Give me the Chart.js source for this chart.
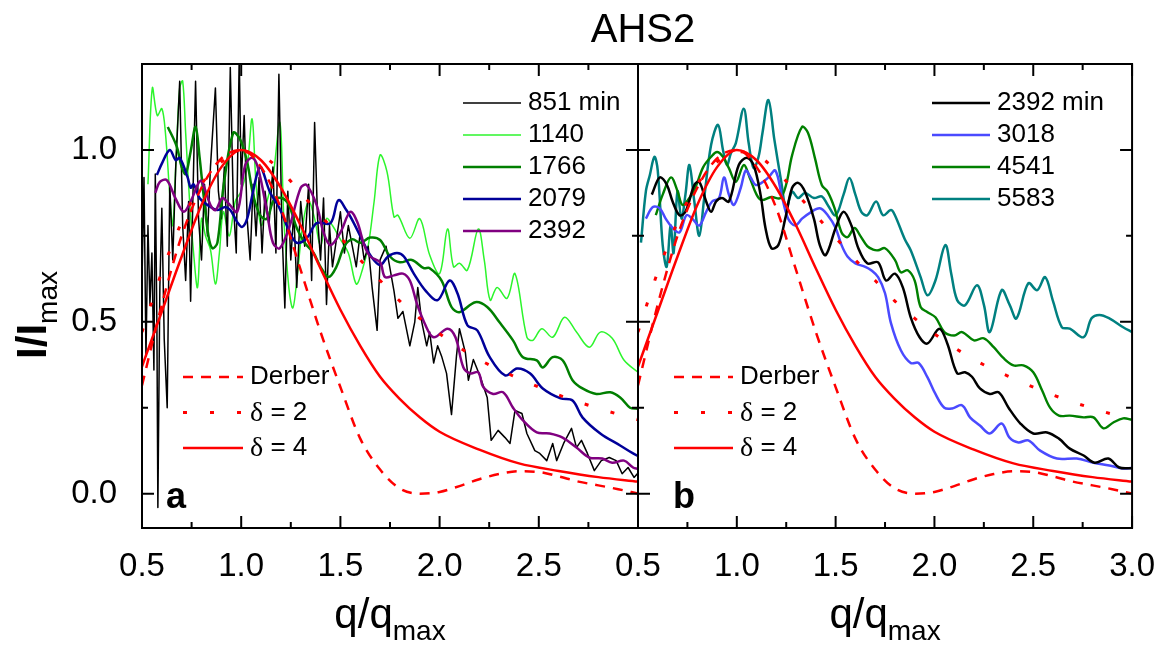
<!DOCTYPE html>
<html>
<head>
<meta charset="utf-8">
<title>AHS2</title>
<script src="https://cdn.jsdelivr.net/npm/chart.js@4.4.1/dist/chart.umd.min.js"></script>
<style>
  html, body { margin: 0; padding: 0; background: #fff; }
  #wrap { position: relative; width: 1166px; height: 646px; }
  #wrap canvas { position: absolute; left: 0; top: 0; }
</style>
</head>
<body>
<div id="wrap">
  <canvas id="chart-a" width="1166" height="646"></canvas>
  <canvas id="chart-b" width="1166" height="646"></canvas>
</div>
<script>
// ---- tick values ----
var xTicksA = [0.5, 1.0, 1.5, 2.0, 2.5];
var xTicksB = [0.5, 1.0, 1.5, 2.0, 2.5, 3.0];
var xMajor = [0.5, 1.0, 1.5, 2.0, 2.5, 3.0];
var xMinor = [0.75, 1.25, 1.75, 2.25, 2.75];
var yMajor = [0.0, 0.5, 1.0];
var yMinor = [0.25, 0.75];

// ---- model curves (same in both panels) ----
var qDelta4 = [0.5, 0.6, 0.7, 0.8, 0.9, 1.0, 1.1, 1.2, 1.3, 1.4, 1.5, 1.6, 1.7, 1.8, 1.9, 2.0, 2.2, 2.4, 2.6, 2.8, 3.0];
var iDelta4 = [0.37, 0.53, 0.69, 0.84, 0.95, 1.0, 0.97, 0.89, 0.78, 0.655, 0.535, 0.43, 0.34, 0.275, 0.222, 0.18, 0.128, 0.088, 0.066, 0.048, 0.035];
var qDelta2 = [0.5, 0.6, 0.7, 0.8, 0.9, 1.0, 1.1, 1.2, 1.3, 1.4, 1.5, 1.6, 1.7, 1.8, 1.9, 2.0, 2.2, 2.4, 2.6, 2.8, 3.0];
var iDelta2 = [0.47, 0.645, 0.79, 0.9, 0.965, 0.995, 0.985, 0.94, 0.875, 0.81, 0.745, 0.68, 0.62, 0.56, 0.51, 0.465, 0.39, 0.335, 0.287, 0.248, 0.215];
var qDerber = [0.5, 0.6, 0.7, 0.8, 0.9, 1.0, 1.1, 1.2, 1.3, 1.4, 1.5, 1.6, 1.7, 1.8, 1.9, 2.0, 2.1, 2.2, 2.3, 2.4, 2.5, 2.6, 2.7, 2.8, 2.9, 3.0];
var iDerber = [0.315, 0.55, 0.75, 0.89, 0.975, 1.0, 0.95, 0.83, 0.65, 0.47, 0.31, 0.16, 0.07, 0.015, 0.0, 0.005, 0.022, 0.042, 0.057, 0.065, 0.063, 0.05, 0.035, 0.024, 0.013, 0.0];

// ---- panel a ----
var q851 = [0.500, 0.510, 0.520, 0.530, 0.540, 0.550, 0.560, 0.567, 0.575, 0.580, 0.590, 0.600, 0.612, 0.627, 0.640, 0.655, 0.670, 0.690, 0.705, 0.720,
  0.735, 0.745, 0.760, 0.770, 0.785, 0.800, 0.815, 0.830, 0.845, 0.870, 0.885, 0.900, 0.915, 0.930, 0.945, 0.960, 0.975, 0.990, 1.000, 1.015,
  1.030, 1.045, 1.060, 1.075, 1.090, 1.105, 1.120, 1.140, 1.160, 1.175, 1.190, 1.205, 1.220, 1.235, 1.250, 1.265, 1.280, 1.300, 1.320, 1.340,
  1.355, 1.370, 1.385, 1.400, 1.415, 1.430, 1.445, 1.460, 1.480, 1.500, 1.520, 1.540, 1.560, 1.580, 1.600, 1.620, 1.640, 1.660, 1.685, 1.700,
  1.730, 1.770, 1.790, 1.815, 1.850, 1.875, 1.890, 1.910, 1.935, 1.950, 1.970, 1.990, 2.010, 2.035, 2.060, 2.085, 2.100, 2.130, 2.145, 2.170,
  2.205, 2.240, 2.260, 2.295, 2.330, 2.355, 2.380, 2.415, 2.440, 2.480, 2.505, 2.540, 2.570, 2.590, 2.625, 2.665, 2.690, 2.715, 2.745, 2.780,
  2.815, 2.855, 2.890, 2.920, 2.950, 2.980, 3.000];
var i851 = [0.62, 0.92, 0.40, 0.78, 0.55, 0.70, 0.36, 0.93, 0.50, -0.04, 0.60, 0.83, 0.45, 0.25, 0.90, 0.68, 0.95, 1.20, 0.78, 0.62,
  0.85, 0.56, 0.95, 1.20, 0.80, 0.68, 0.90, 0.75, 0.95, 1.18, 0.88, 0.80, 0.95, 0.72, 1.24, 0.85, 0.70, 1.27, 0.90, 1.10,
  0.80, 0.68, 0.90, 0.75, 0.92, 0.70, 0.88, 0.78, 0.95, 0.70, 1.22, 0.78, 0.54, 0.88, 0.68, 0.82, 0.60, 0.85, 0.72, 0.90,
  0.62, 1.08, 0.80, 0.68, 0.86, 0.55, 0.78, 0.66, 0.74, 0.82, 0.70, 0.78, 0.72, 0.66, 0.76, 0.68, 0.72, 0.60, 0.475, 0.68,
  0.72, 0.59, 0.51, 0.53, 0.43, 0.50, 0.60, 0.50, 0.43, 0.47, 0.38, 0.43, 0.40, 0.35, 0.23, 0.40, 0.48, 0.41, 0.33, 0.39,
  0.34, 0.28, 0.155, 0.184, 0.163, 0.146, 0.242, 0.233, 0.175, 0.125, 0.117, 0.096, 0.146, 0.096, 0.146, 0.19, 0.134, 0.155, 0.117, 0.067,
  0.096, 0.105, 0.096, 0.058, 0.076, 0.047, 0.06];

var q1140 = [0.530, 0.552, 0.577, 0.600, 0.618, 0.640, 0.655, 0.670, 0.690, 0.705, 0.720, 0.740, 0.760, 0.780, 0.800, 0.820, 0.845, 0.870, 0.890, 0.910,
  0.940, 0.970, 1.000, 1.030, 1.055, 1.075, 1.100, 1.130, 1.160, 1.195, 1.215, 1.240, 1.260, 1.280, 1.310, 1.340, 1.370, 1.400, 1.430, 1.460,
  1.500, 1.540, 1.580, 1.610, 1.640, 1.670, 1.700, 1.735, 1.770, 1.790, 1.850, 1.900, 1.950, 2.000, 2.040, 2.070, 2.100, 2.140, 2.195, 2.225,
  2.255, 2.290, 2.340, 2.380, 2.440, 2.470, 2.515, 2.570, 2.630, 2.690, 2.755, 2.810, 2.870, 2.930, 3.000];
var i1140 = [0.90, 1.18, 1.10, 1.12, 1.05, 0.87, 0.78, 0.95, 1.18, 1.20, 1.05, 0.85, 0.70, 0.60, 0.80, 0.75, 0.71, 0.61, 0.70, 0.82,
  0.75, 0.85, 0.88, 0.95, 1.09, 0.90, 0.78, 0.85, 0.92, 1.08, 0.80, 0.60, 0.54, 0.62, 0.78, 0.85, 0.80, 0.72, 0.80, 0.78,
  0.74, 0.70, 0.61, 0.65, 0.72, 0.85, 0.985, 0.936, 0.805, 0.81, 0.743, 0.80, 0.694, 0.64, 0.77, 0.66, 0.67, 0.65, 0.77, 0.68,
  0.563, 0.60, 0.568, 0.64, 0.455, 0.446, 0.48, 0.455, 0.513, 0.47, 0.426, 0.47, 0.452, 0.388, 0.353];

var q1766 = [0.630, 0.675, 0.700, 0.720, 0.745, 0.770, 0.790, 0.810, 0.835, 0.855, 0.880, 0.910, 0.960, 0.995, 1.030, 1.060, 1.095, 1.130, 1.165, 1.205,
  1.240, 1.280, 1.320, 1.365, 1.400, 1.440, 1.480, 1.520, 1.560, 1.600, 1.650, 1.700, 1.750, 1.800, 1.860, 1.920, 1.950, 2.010, 2.060, 2.100,
  2.180, 2.240, 2.300, 2.370, 2.420, 2.490, 2.520, 2.570, 2.620, 2.670, 2.720, 2.790, 2.860, 2.910, 2.960, 3.000];
var i1766 = [1.067, 1.01, 0.95, 0.93, 0.995, 1.067, 0.98, 0.87, 0.75, 0.714, 0.73, 0.89, 1.05, 1.03, 0.965, 0.87, 0.81, 0.80, 0.855, 0.86,
  0.84, 0.773, 0.73, 0.70, 0.66, 0.63, 0.66, 0.72, 0.74, 0.73, 0.745, 0.738, 0.69, 0.673, 0.68, 0.656, 0.656, 0.62, 0.543, 0.528,
  0.557, 0.543, 0.50, 0.446, 0.397, 0.388, 0.367, 0.397, 0.388, 0.33, 0.306, 0.29, 0.295, 0.28, 0.25, 0.247];

var q2079 = [0.575, 0.600, 0.640, 0.670, 0.690, 0.730, 0.745, 0.760, 0.790, 0.830, 0.880, 0.920, 0.945, 0.980, 1.005, 1.030, 1.060, 1.085, 1.100, 1.145,
  1.190, 1.245, 1.280, 1.330, 1.380, 1.450, 1.490, 1.530, 1.565, 1.615, 1.650, 1.700, 1.740, 1.785, 1.820, 1.870, 1.930, 1.990, 2.050, 2.090,
  2.140, 2.190, 2.250, 2.330, 2.390, 2.455, 2.520, 2.610, 2.670, 2.720, 2.810, 2.910, 2.975, 3.000];
var i2079 = [0.927, 0.96, 1.0, 0.97, 0.977, 0.92, 0.89, 0.90, 0.86, 0.84, 0.825, 0.834, 0.825, 0.79, 0.776, 0.80, 0.88, 0.94, 0.95, 0.877,
  0.834, 0.76, 0.73, 0.743, 0.787, 0.787, 0.854, 0.825, 0.79, 0.732, 0.694, 0.665, 0.69, 0.70, 0.69, 0.64, 0.59, 0.563, 0.62, 0.583,
  0.49, 0.475, 0.40, 0.344, 0.364, 0.35, 0.306, 0.277, 0.271, 0.222, 0.175, 0.14, 0.117, 0.11];

var q2392a = [0.567, 0.590, 0.625, 0.668, 0.710, 0.745, 0.785, 0.800, 0.845, 0.870, 0.905, 0.935, 0.980, 1.020, 1.055, 1.085, 1.130, 1.160, 1.195, 1.245,
  1.300, 1.330, 1.380, 1.415, 1.450, 1.500, 1.550, 1.585, 1.620, 1.650, 1.700, 1.725, 1.770, 1.815, 1.850, 1.885, 1.925, 1.970, 2.040, 2.080,
  2.120, 2.155, 2.195, 2.220, 2.270, 2.320, 2.370, 2.420, 2.490, 2.555, 2.620, 2.690, 2.755, 2.820, 2.870, 2.930, 2.975, 3.000];
var i2392a = [0.875, 0.907, 0.912, 0.86, 0.82, 0.85, 0.904, 0.91, 0.84, 0.825, 0.86, 0.845, 0.82, 0.956, 0.977, 0.947, 0.82, 0.73, 0.714, 0.78,
  0.89, 0.898, 0.84, 0.76, 0.723, 0.76, 0.82, 0.79, 0.723, 0.69, 0.673, 0.63, 0.635, 0.64, 0.62, 0.554, 0.495, 0.455, 0.48, 0.455,
  0.367, 0.35, 0.353, 0.31, 0.29, 0.295, 0.25, 0.213, 0.178, 0.175, 0.163, 0.134, 0.105, 0.102, 0.09, 0.096, 0.076, 0.072];

// ---- panel b ----
var q2392b = [0.570, 0.610, 0.645, 0.675, 0.710, 0.740, 0.785, 0.810, 0.845, 0.870, 0.895, 0.925, 0.960, 1.010, 1.050, 1.085, 1.120, 1.145, 1.175, 1.210,
  1.245, 1.280, 1.310, 1.345, 1.390, 1.420, 1.450, 1.500, 1.540, 1.580, 1.615, 1.660, 1.715, 1.755, 1.800, 1.840, 1.880, 1.925, 1.965, 2.025,
  2.065, 2.115, 2.155, 2.190, 2.230, 2.280, 2.325, 2.375, 2.435, 2.500, 2.570, 2.630, 2.685, 2.755, 2.810, 2.880, 2.935, 3.000];
var i2392b = [0.87, 0.92, 0.90, 0.85, 0.81, 0.82, 0.898, 0.907, 0.85, 0.82, 0.85, 0.86, 0.85, 0.956, 0.977, 0.956, 0.87, 0.773, 0.714, 0.723,
  0.80, 0.89, 0.904, 0.878, 0.80, 0.723, 0.694, 0.773, 0.82, 0.78, 0.714, 0.67, 0.673, 0.62, 0.64, 0.60, 0.513, 0.455, 0.437, 0.48,
  0.437, 0.35, 0.353, 0.34, 0.306, 0.29, 0.295, 0.25, 0.204, 0.175, 0.178, 0.16, 0.131, 0.111, 0.09, 0.102, 0.076, 0.074];

var q3018 = [0.540, 0.575, 0.610, 0.640, 0.675, 0.710, 0.745, 0.775, 0.810, 0.845, 0.875, 0.910, 0.935, 0.960, 0.985, 1.020, 1.045, 1.070, 1.095, 1.125,
  1.160, 1.195, 1.230, 1.260, 1.295, 1.330, 1.370, 1.420, 1.460, 1.500, 1.530, 1.560, 1.600, 1.650, 1.680, 1.715, 1.750, 1.780, 1.830, 1.880,
  1.920, 1.965, 2.005, 2.050, 2.090, 2.140, 2.180, 2.230, 2.280, 2.340, 2.380, 2.425, 2.475, 2.535, 2.620, 2.720, 2.805, 2.885, 2.955, 3.000];
var i3018 = [0.80, 0.834, 0.83, 0.80, 0.773, 0.76, 0.81, 0.80, 0.78, 0.82, 0.85, 0.86, 0.92, 0.87, 0.84, 0.89, 0.94, 0.92, 0.898, 0.904,
  0.92, 0.94, 0.86, 0.80, 0.78, 0.80, 0.817, 0.83, 0.81, 0.773, 0.723, 0.69, 0.67, 0.66, 0.65, 0.63, 0.583, 0.496, 0.417, 0.38,
  0.38, 0.338, 0.29, 0.25, 0.248, 0.257, 0.222, 0.198, 0.175, 0.204, 0.163, 0.149, 0.155, 0.125, 0.102, 0.102, 0.09, 0.082, 0.073, 0.075];

var q4541 = [0.590, 0.625, 0.667, 0.700, 0.725, 0.760, 0.790, 0.830, 0.870, 0.900, 0.930, 0.960, 0.995, 1.035, 1.065, 1.100, 1.125, 1.175, 1.220, 1.250,
  1.280, 1.330, 1.360, 1.395, 1.430, 1.460, 1.495, 1.530, 1.560, 1.595, 1.625, 1.660, 1.690, 1.715, 1.750, 1.800, 1.830, 1.865, 1.900, 1.930,
  1.965, 2.005, 2.050, 2.100, 2.140, 2.200, 2.250, 2.300, 2.350, 2.400, 2.450, 2.500, 2.545, 2.585, 2.630, 2.685, 2.755, 2.805, 2.855, 2.905,
  2.955, 3.000];
var i4541 = [0.81, 0.87, 0.92, 0.88, 0.84, 0.86, 0.89, 0.95, 0.98, 0.994, 0.98, 0.947, 0.907, 0.956, 0.92, 0.87, 0.854, 0.863, 0.86, 0.90,
  0.985, 1.067, 1.05, 0.977, 0.898, 0.878, 0.83, 0.76, 0.746, 0.773, 0.75, 0.72, 0.71, 0.708, 0.714, 0.68, 0.644, 0.65, 0.62, 0.543,
  0.528, 0.513, 0.47, 0.46, 0.47, 0.446, 0.452, 0.426, 0.394, 0.373, 0.373, 0.353, 0.30, 0.25, 0.227, 0.227, 0.222, 0.222, 0.19, 0.207,
  0.219, 0.215];

var q5583 = [0.515, 0.540, 0.560, 0.583, 0.600, 0.625, 0.645, 0.665, 0.680, 0.700, 0.720, 0.740, 0.760, 0.785, 0.810, 0.835, 0.870, 0.905, 0.930, 0.950,
  0.970, 0.995, 1.035, 1.060, 1.085, 1.110, 1.130, 1.160, 1.190, 1.225, 1.250, 1.280, 1.310, 1.345, 1.390, 1.430, 1.460, 1.500, 1.540, 1.570,
  1.600, 1.630, 1.660, 1.705, 1.740, 1.780, 1.800, 1.850, 1.880, 1.930, 1.965, 2.005, 2.055, 2.085, 2.115, 2.155, 2.215, 2.250, 2.280, 2.340,
  2.380, 2.415, 2.475, 2.520, 2.560, 2.600, 2.645, 2.685, 2.755, 2.795, 2.835, 2.885, 2.955, 3.000];
var i5583 = [0.73, 0.88, 0.927, 0.98, 0.94, 0.723, 0.66, 0.78, 0.70, 0.88, 0.80, 0.87, 0.956, 0.85, 0.75, 0.86, 1.015, 1.073, 1.0, 0.956,
  0.99, 1.02, 1.12, 1.02, 0.947, 0.98, 1.05, 1.145, 1.03, 0.907, 0.83, 0.878, 0.86, 0.875, 0.86, 0.865, 0.84, 0.81, 0.87, 0.918,
  0.87, 0.82, 0.81, 0.85, 0.81, 0.825, 0.81, 0.74, 0.708, 0.63, 0.577, 0.62, 0.723, 0.64, 0.563, 0.548, 0.606, 0.55, 0.47, 0.592,
  0.55, 0.51, 0.612, 0.592, 0.63, 0.56, 0.484, 0.48, 0.455, 0.51, 0.52, 0.51, 0.484, 0.47];

Chart.defaults.font.family = "'Liberation Sans', Arial, sans-serif";
Chart.defaults.color = '#000';

var SANS = "'Liberation Sans', Arial, sans-serif";
var RED = '#ff0000';

function pts(q, v) {
    return q.map(function(x, k) { return { x: x, y: v[k] }; });
}

function dataLine(label, q, v, color, width, tension) {
    return {
        label: label,
        data: pts(q, v),
        borderColor: color,
        borderWidth: width,
        tension: tension,
        fill: false
    };
}

function modelLines() {
    return [
        { label: 'δ = 4', data: pts(qDelta4, iDelta4), borderColor: RED, borderWidth: 2.5,
          cubicInterpolationMode: 'monotone', fill: false },
        { label: 'δ = 2', data: pts(qDelta2, iDelta2), borderColor: RED, borderWidth: 3,
          borderDash: [4, 23], cubicInterpolationMode: 'monotone', fill: false },
        { label: 'Derber', data: pts(qDerber, iDerber), borderColor: RED, borderWidth: 2.5,
          borderDash: [10, 8], cubicInterpolationMode: 'monotone', fill: false }
    ];
}

// text with a lowered subscript, centred on cx
function subText(ctx, main, sub, cx, y, mainFont, subFont, drop) {
    ctx.font = mainFont;
    var w1 = ctx.measureText(main).width;
    ctx.font = subFont;
    var w2 = ctx.measureText(sub).width;
    var x = cx - (w1 + w2) / 2;
    ctx.textAlign = 'left';
    ctx.textBaseline = 'alphabetic';
    ctx.font = mainFont;
    ctx.fillText(main, x, y);
    ctx.font = subFont;
    ctx.fillText(sub, x + w1, y + drop);
}

function legendLabel(ctx, text, x, y) {
    ctx.textAlign = 'left';
    ctx.textBaseline = 'middle';
    if (text.charAt(0) === 'δ') {
        ctx.font = "28px 'Liberation Serif', serif";
        ctx.fillText('δ', x, y + 1);
        var w = ctx.measureText('δ').width;
        ctx.font = '26px ' + SANS;
        ctx.fillText(text.slice(1), x + w, y);
    } else {
        ctx.font = '26px ' + SANS;
        ctx.fillText(text, x, y);
    }
}

function drawLegend(ctx, chart, labels, box) {
    var sets = chart.data.datasets;
    labels.forEach(function(lab, k) {
        var ds = sets.filter(function(d) { return d.label === lab; })[0];
        var y = box.y + k * box.step;
        ctx.save();
        ctx.strokeStyle = ds.borderColor;
        ctx.lineWidth = ds.borderWidth;
        ctx.setLineDash(ds.borderDash || []);
        ctx.beginPath();
        ctx.moveTo(box.x, y);
        ctx.lineTo(box.x + box.len, y);
        ctx.stroke();
        ctx.restore();
        ctx.fillStyle = '#000';
        legendLabel(ctx, lab, box.x + box.len + 7, y);
    });
}

function decor(cfg) {
    return {
        id: 'decor',
        afterDraw: function(chart) {
            var ctx = chart.ctx;
            var a = chart.chartArea;
            var xs = chart.scales.x, ys = chart.scales.y;
            ctx.save();
            ctx.strokeStyle = '#000';
            ctx.lineWidth = 2;
            ctx.strokeRect(a.left, a.top, a.right - a.left, a.bottom - a.top);

            // inward ticks on all four sides
            function xTick(v, len) {
                var px = xs.getPixelForValue(v);
                ctx.beginPath();
                ctx.moveTo(px, a.bottom); ctx.lineTo(px, a.bottom - len);
                ctx.moveTo(px, a.top); ctx.lineTo(px, a.top + len);
                ctx.stroke();
            }
            function yTick(v, len) {
                var py = ys.getPixelForValue(v);
                ctx.beginPath();
                ctx.moveTo(a.left, py); ctx.lineTo(a.left + len, py);
                ctx.moveTo(a.right, py); ctx.lineTo(a.right - len, py);
                ctx.stroke();
            }
            xMajor.forEach(function(v) { xTick(v, 12); });
            xMinor.forEach(function(v) { xTick(v, 6); });
            yMajor.forEach(function(v) { yTick(v, 12); });
            yMinor.forEach(function(v) { yTick(v, 6); });

            ctx.fillStyle = '#000';
            // panel letter
            ctx.font = 'bold 36px ' + SANS;
            ctx.textAlign = 'left';
            ctx.textBaseline = 'alphabetic';
            ctx.fillText(cfg.letter, cfg.letterX, 508);

            drawLegend(ctx, chart, cfg.topLabels, cfg.topBox);
            drawLegend(ctx, chart, ['Derber', 'δ = 2', 'δ = 4'], cfg.lowBox);

            // x axis title
            subText(ctx, 'q/q', 'max', (a.left + a.right) / 2, 628,
                '42px ' + SANS, '28px ' + SANS, 12);

            if (cfg.titles) {
                ctx.font = '40px ' + SANS;
                ctx.textAlign = 'center';
                ctx.textBaseline = 'middle';
                ctx.fillText('AHS2', 643, 31);

                ctx.save();
                ctx.translate(46, 315);
                ctx.rotate(-Math.PI / 2);
                subText(ctx, 'I/I', 'max', 0, 0, 'bold 42px ' + SANS, '28px ' + SANS, 11);
                ctx.restore();
            }
            ctx.restore();
        }
    };
}

function options(tickVals, yWidth, padRight, showY) {
    return {
        responsive: false,
        animation: false,
        events: [],
        layout: { padding: { left: 0, top: 64, right: padRight, bottom: 0 } },
        plugins: {
            legend: { display: false },
            tooltip: { enabled: false },
            title: { display: false }
        },
        elements: {
            point: { radius: 0 },
            line: { borderCapStyle: 'butt', borderJoinStyle: 'round' }
        },
        scales: {
            x: {
                type: 'linear', min: 0.5, max: 3.0,
                grid: { display: false }, border: { display: false },
                afterBuildTicks: function(s) {
                    s.ticks = tickVals.map(function(v) { return { value: v }; });
                },
                afterFit: function(s) { s.height = 118; },
                ticks: {
                    padding: 11, autoSkip: false, maxRotation: 0,
                    font: { size: 33 },
                    callback: function(v) { return Number(v).toFixed(1); }
                }
            },
            y: {
                type: 'linear', min: -0.1, max: 1.25,
                grid: { display: false }, border: { display: false },
                afterBuildTicks: function(s) {
                    s.ticks = yMajor.map(function(v) { return { value: v }; });
                },
                afterFit: function(s) { s.width = yWidth; },
                ticks: {
                    display: showY, padding: 17,
                    font: { size: 33 },
                    callback: function(v) { return Number(v).toFixed(1); }
                }
            }
        }
    };
}

var setsA = modelLines().concat([
    dataLine('2392', q2392a, i2392a, '#800080', 2.5, 0.35),
    dataLine('2079', q2079, i2079, '#000099', 2.5, 0.35),
    dataLine('1766', q1766, i1766, '#007f00', 2.5, 0.35),
    dataLine('851 min', q851, i851, '#000000', 1.5, 0),
    dataLine('1140', q1140, i1140, '#2cf52c', 1.5, 0.35)
]);

var setsB = modelLines().concat([
    dataLine('2392 min', q2392b, i2392b, '#000000', 2.5, 0.35),
    dataLine('3018', q3018, i3018, '#4a4aff', 2.5, 0.35),
    dataLine('4541', q4541, i4541, '#008000', 2.4, 0.35),
    dataLine('5583', q5583, i5583, '#008080', 2.5, 0.35)
]);

new Chart(document.getElementById('chart-a'), {
    type: 'line',
    data: { datasets: setsA },
    options: options(xTicksA, 142, 528, true),
    plugins: [decor({
        letter: 'a', letterX: 166, titles: true,
        topLabels: ['851 min', '1140', '1766', '2079', '2392'],
        topBox: { x: 463, y: 103, step: 32, len: 58 },
        lowBox: { x: 183, y: 377, step: 35.5, len: 60 }
    })]
});

new Chart(document.getElementById('chart-b'), {
    type: 'line',
    data: { datasets: setsB },
    options: options(xTicksB, 638, 30, false),
    plugins: [decor({
        letter: 'b', letterX: 673, titles: false,
        topLabels: ['2392 min', '3018', '4541', '5583'],
        topBox: { x: 932, y: 103, step: 32, len: 58 },
        lowBox: { x: 674, y: 377, step: 35.5, len: 59 }
    })]
});
</script>
</body>
</html>
